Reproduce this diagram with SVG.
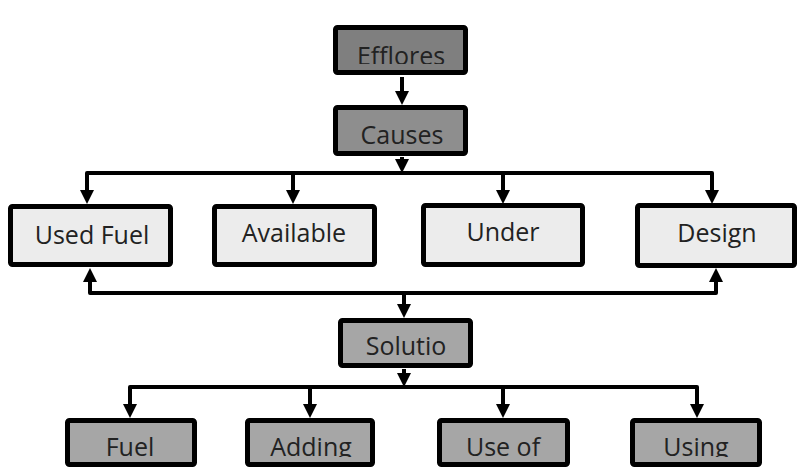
<svg xmlns="http://www.w3.org/2000/svg" width="800" height="474" viewBox="0 0 800 474">
<defs>
<style>
.box{stroke:#000;stroke-width:5;}
.dark{fill:#7f7f7f;}
.mid{fill:#8e8e8e;}
.gray{fill:#a6a6a6;}
.light{fill:#ececec;}
.lbl{font-family:"Open Sans","Noto Sans","DejaVu Sans",sans-serif;font-size:25px;fill:#222;text-anchor:middle;}
.con{fill:none;stroke:#000;stroke-width:4;stroke-linejoin:round;}
</style>
<marker id="ah" viewBox="0 0 14 14" refX="0" refY="7" markerWidth="14" markerHeight="14" markerUnits="userSpaceOnUse" orient="auto">
<path d="M0,0 L14,7 L0,14 z" fill="#000"/>
</marker>
<clipPath id="cTop"><rect x="333" y="25" width="135" height="39"/></clipPath>
<clipPath id="cBot"><rect x="0" y="410" width="800" height="47"/></clipPath>
</defs>

<g id="connectors">
<path class="con" d="M402,77 V91" marker-end="url(#ah)"/>
<path class="con" d="M402,157 V159" marker-end="url(#ah)"/>
<path class="con" d="M402,173 H87 V190" marker-end="url(#ah)"/>
<path class="con" d="M402,173 H293 V190" marker-end="url(#ah)"/>
<path class="con" d="M402,173 H503 V190" marker-end="url(#ah)"/>
<path class="con" d="M402,173 H712 V190" marker-end="url(#ah)"/>
<path class="con" d="M404,293 H90 V282" marker-end="url(#ah)"/>
<path class="con" d="M404,293 H716 V282" marker-end="url(#ah)"/>
<path class="con" d="M404,293 V304" marker-end="url(#ah)"/>
<path class="con" d="M404,369 V373" marker-end="url(#ah)"/>
<path class="con" d="M404,387 H130 V404" marker-end="url(#ah)"/>
<path class="con" d="M404,387 H310 V404" marker-end="url(#ah)"/>
<path class="con" d="M404,387 H503 V404" marker-end="url(#ah)"/>
<path class="con" d="M404,387 H697 V404" marker-end="url(#ah)"/>
</g>

<g id="efflores">
<rect class="box dark" x="335.5" y="27.5" width="130" height="45" rx="2"/>
<text class="lbl" x="401" y="65" clip-path="url(#cTop)">Efflores</text>
</g>
<g id="causes">
<rect class="box mid" x="335.5" y="107.5" width="130" height="46" rx="2"/>
<text class="lbl" x="402" y="144">Causes</text>
</g>
<g id="used-fuel">
<rect class="box light" x="10.5" y="206.5" width="160" height="58" rx="2"/>
<text class="lbl" x="92" y="244">Used Fuel</text>
</g>
<g id="available">
<rect class="box light" x="214.5" y="206.5" width="160" height="58" rx="2"/>
<text class="lbl" x="294" y="242">Available</text>
</g>
<g id="under">
<rect class="box light" x="423.5" y="205.5" width="159" height="59" rx="2"/>
<text class="lbl" x="503" y="241">Under</text>
</g>
<g id="design">
<rect class="box light" x="637.5" y="205.5" width="157" height="60" rx="2"/>
<text class="lbl" x="717" y="242">Design</text>
</g>
<g id="solutio">
<rect class="box gray" x="340.5" y="320.5" width="130" height="45" rx="2"/>
<text class="lbl" x="406" y="355">Solutio</text>
</g>
<g id="fuel">
<rect class="box gray" x="67.5" y="420.5" width="127" height="44" rx="2"/>
<text class="lbl" x="130" y="456" clip-path="url(#cBot)">Fuel</text>
</g>
<g id="adding">
<rect class="box gray" x="247.5" y="420.5" width="125" height="44" rx="2"/>
<text class="lbl" x="311" y="456" clip-path="url(#cBot)">Adding</text>
</g>
<g id="use-of">
<rect class="box gray" x="439.5" y="420.5" width="128" height="44" rx="2"/>
<text class="lbl" x="503" y="456" clip-path="url(#cBot)">Use of</text>
</g>
<g id="using">
<rect class="box gray" x="632.5" y="420.5" width="127" height="44" rx="2"/>
<text class="lbl" x="696" y="456" clip-path="url(#cBot)">Using</text>
</g>
</svg>
